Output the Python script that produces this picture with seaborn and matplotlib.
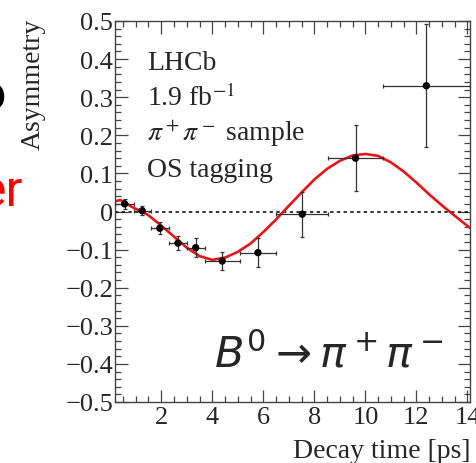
import numpy as np
import pandas as pd
import matplotlib
matplotlib.use("Agg")
import matplotlib.pyplot as plt
from matplotlib.ticker import MultipleLocator, FixedLocator, FuncFormatter
import seaborn as sns

# Binned asymmetry measurements
bin_edges = [0.2, 0.93, 1.58, 2.31, 3.0, 3.7, 5.08, 6.5, 8.55, 10.68, 14.1]
asym = [0.020, 0.002, -0.044, -0.083, -0.095, -0.130, -0.108, -0.007, 0.140, 0.330]
asym_err = [0.013, 0.012, 0.016, 0.018, 0.025, 0.023, 0.038, 0.059, 0.087, 0.162]

# Fit projection
fit_t = [0.2, 0.4, 0.6, 0.8, 1.0, 1.25, 1.5, 2.0, 2.5, 3.0, 3.5, 4.0, 4.5, 5.0,
         5.5, 6.0, 6.5, 7.0, 7.5, 8.0, 8.5, 9.0, 9.5, 10.0, 10.5, 11.0, 11.5,
         12.0, 12.5, 13.0, 13.5, 14.0, 14.1]
fit_a = [0.027, 0.030, 0.023, 0.014, 0.007, 0.000, -0.010, -0.037, -0.066,
         -0.095, -0.117, -0.127, -0.121, -0.106, -0.084, -0.054, -0.021, 0.015,
         0.050, 0.084, 0.112, 0.133, 0.147, 0.151, 0.146, 0.129, 0.105, 0.076,
         0.045, 0.016, -0.011, -0.038, -0.043]

x_ticks = [2, 4, 6, 8, 10, 12, 14]
y_ticks = [-0.5, -0.4, -0.3, -0.2, -0.1, 0.0, 0.1, 0.2, 0.3, 0.4, 0.5]

edges = np.array(bin_edges)
points = pd.DataFrame({
    "t": 0.5 * (edges[:-1] + edges[1:]),
    "terr": 0.5 * (edges[1:] - edges[:-1]),
    "A": asym,
    "Aerr": asym_err,
})
curve = pd.DataFrame({"t": fit_t, "A": fit_a})

sns.set_theme(style="ticks")
plt.rcParams["font.family"] = ["Liberation Serif", "DejaVu Serif"]
plt.rcParams["mathtext.fontset"] = "stix"

fig = plt.figure(figsize=(4.77, 4.64), dpi=100)
ax = fig.add_axes([115.3 / 477, 1 - 403 / 464, (470 - 115.3) / 477, (403 - 22) / 464])

ax.axhline(0, color="black", lw=1.1, ls=(0, (2.2, 2.2)), zorder=1)
sns.lineplot(data=curve, x="t", y="A", ax=ax, color="#e8141a", lw=1.9,
             zorder=2, estimator=None, sort=False)
ax.errorbar(points["t"], points["A"], xerr=points["terr"], yerr=points["Aerr"],
            fmt="none", ecolor="#333333", elinewidth=0.9, capsize=1.5,
            capthick=0.9, zorder=3)
sns.scatterplot(data=points, x="t", y="A", ax=ax, color="black", s=28,
                edgecolor="none", zorder=4)

ax.set_xlim(0.2, 14.1)
ax.set_ylim(-0.5, 0.5)
ax.set_xlabel("")
ax.set_ylabel("")

ax.xaxis.set_major_locator(FixedLocator(x_ticks))
ax.xaxis.set_minor_locator(MultipleLocator(0.5))
ax.yaxis.set_major_locator(FixedLocator(y_ticks))
ax.yaxis.set_minor_locator(MultipleLocator(0.02))


def yfmt(v, pos):
    if abs(v) < 1e-9:
        return "0"
    return f"{v:.1f}".replace("-", "\u2212")


ax.yaxis.set_major_formatter(FuncFormatter(yfmt))
ax.tick_params(which="both", direction="in", top=True, right=True,
               color="#444444", width=0.9, labelsize=19)
ax.tick_params(which="major", length=9)
ax.tick_params(which="minor", length=4.5)
ax.tick_params(axis="x", which="major", pad=3)
ax.tick_params(axis="y", which="major", pad=1.5)
for sp in ax.spines.values():
    sp.set_color("#444444")
    sp.set_linewidth(1.0)

fig.text(33 / 477, 1 - 19 / 464, "Asymmetry", rotation=90, ha="center",
         va="top", fontsize=20)
fig.text(471 / 477, 1 - 458 / 464, "Decay time [ps]", ha="right",
         va="baseline", fontsize=20)

info = ["LHCb", r"1.9 fb$^{\mathrm{-1}}$", r"$\pi^+\pi^-$ sample", "OS tagging"]
baselines = [70, 106, 141, 177]
for txt, yb in zip(info, baselines):
    fig.text(147 / 477, 1 - yb / 464, txt, ha="left", va="baseline", fontsize=20)

fig.text(214 / 477, 1 - 368 / 464, r"$B^0 \rightarrow \pi^+\pi^-$",
         ha="left", va="baseline", fontsize=31, math_fontfamily="dejavusans")

fig.text(23 / 477, 1 - 206 / 464, "er", ha="right", va="baseline",
         fontsize=36, color="red", family=["Liberation Sans Narrow", "Roboto"])
fig.text(6 / 477, 1 - 110 / 464, "o", ha="right", va="baseline",
         fontsize=36, color="black", family=["Liberation Sans Narrow", "Roboto"])

fig.savefig("out.png", dpi=100)
